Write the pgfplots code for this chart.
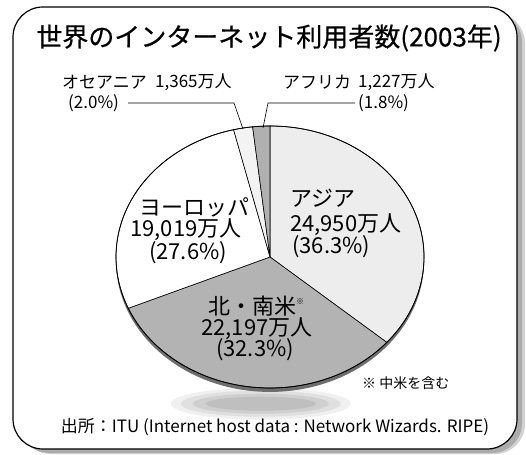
\documentclass[border=0pt]{standalone}
\usepackage{pgfplots}
\pgfplotsset{compat=1.18}
\usepackage{fontspec}
\setmainfont{Noto Sans CJK JP}
\newfontfamily\titlefont[FakeBold=0.5]{Noto Sans CJK JP}
\definecolor{asia}{HTML}{EDEDED}
\definecolor{amer}{HTML}{B3B3B3}
\definecolor{euro}{HTML}{FFFFFF}
\definecolor{ocea}{HTML}{F3F3F3}
\definecolor{afri}{HTML}{B0B0B0}
\definecolor{rim}{HTML}{6E6E6E}
\begin{document}
\begin{tikzpicture}[x=1pt,y=1pt]
\useasboundingbox (0,0) rectangle (526,454);
% frame with shadow
\fill[gray!35, rounded corners=30pt] (21,0) rectangle (525,441);
\fill[gray!65, rounded corners=30pt] (19,1) rectangle (522,442);
\filldraw[fill=white, draw=black, line width=1.2pt, rounded corners=30pt] (13,5) rectangle (517,447);
% percentages (share of users)
\pgfmathsetmacro\aA{90-3.6*36.3}
\pgfmathsetmacro\aB{\aA-3.6*32.3}
\pgfmathsetmacro\aC{\aB-3.6*27.6}
\pgfmathsetmacro\aD{\aC-3.6*2.0}
\pgfmathsetmacro\aE{\aD-3.6*1.8}
\begin{axis}[at={(116pt,66pt)}, anchor=south west, width=308pt, height=262pt, scale only axis,
  xmin=-1, xmax=1, ymin=-1, ymax=1, hide axis, clip=false]
  % shadow
  \fill[gray!12] (axis cs:-0.06,-1.12) ellipse [x radius=90pt, y radius=16pt];
  \fill[gray!24] (axis cs:-0.06,-1.12) ellipse [x radius=80pt, y radius=13pt];
  \fill[gray!38] (axis cs:-0.06,-1.12) ellipse [x radius=68pt, y radius=10pt];
  \fill[gray!50] (axis cs:-0.06,-1.12) ellipse [x radius=55pt, y radius=7pt];
  % rim
  \fill[rim] (axis cs:0,-0.03) ellipse [x radius=154pt, y radius=131pt];
  % slices
  \filldraw[fill=asia, draw=black, line width=0.6pt] (axis cs:0,0) -- (axis cs:0,1)
    arc[start angle=90, end angle=\aA, x radius=154pt, y radius=131pt] -- cycle;
  \filldraw[fill=amer, draw=black, line width=0.6pt] (axis cs:0,0) -- (axis cs:{cos(\aA)},{sin(\aA)})
    arc[start angle=\aA, end angle=\aB, x radius=154pt, y radius=131pt] -- cycle;
  \filldraw[fill=euro, draw=black, line width=0.6pt] (axis cs:0,0) -- (axis cs:{cos(\aB)},{sin(\aB)})
    arc[start angle=\aB, end angle=\aC, x radius=154pt, y radius=131pt] -- cycle;
  \filldraw[fill=ocea, draw=black, line width=0.6pt] (axis cs:0,0) -- (axis cs:{cos(\aC)},{sin(\aC)})
    arc[start angle=\aC, end angle=\aD, x radius=154pt, y radius=131pt] -- cycle;
  \filldraw[fill=afri, draw=black, line width=0.6pt] (axis cs:0,0) -- (axis cs:{cos(\aD)},{sin(\aD)})
    arc[start angle=\aD, end angle=\aE, x radius=154pt, y radius=131pt] -- cycle;
  \draw[line width=0.8pt] (axis cs:0,0) ellipse [x radius=154pt, y radius=131pt];
\end{axis}
% leader lines
\draw[line width=0.6pt] (128,351) -- (234,351) -- (243,325);
\draw[line width=0.6pt] (355,351) -- (268,351) -- (263,326);
% title
\node[inner sep=0, font=\titlefont\fontsize{26}{30}\selectfont] at (269,416) {世界のインターネット利用者数(2003年)};
% small slices labels
\begin{scope}[every node/.style={inner sep=0, font=\fontsize{17}{20}\selectfont}]
\node[anchor=west] at (62,372) {オセアニア};
\node[anchor=west] at (155,372) {1,365万人};
\node[anchor=west] at (68,351) {(2.0\%)};
\node[anchor=west] at (283,372) {アフリカ};
\node[anchor=west] at (358,372) {1,227万人};
\node[anchor=west] at (358,351) {(1.8\%)};
\end{scope}
\begin{scope}[every node/.style={inner sep=0, font=\fontsize{22}{25}\selectfont}]
\node[anchor=west] at (290,256) {アジア};
\node[anchor=west] at (290,229) {24,950万人};
\node[anchor=west] at (292,207) {(36.3\%)};
\node at (194,247) {ヨーロッパ};
\node at (186,224) {19,019万人};
\node at (188,201) {(27.6\%)};
\node at (256,148) {北・南米\raisebox{0.45em}{\fontsize{8}{8}\selectfont ※}};
\node at (257,125) {22,197万人};
\node at (255,104) {(32.3\%)};
\end{scope}
\node[inner sep=0, anchor=west, font=\fontsize{14}{16}\selectfont] at (362,71) {※ 中米を含む};
\node[inner sep=0, font=\fontsize{17}{20}\selectfont] at (275,27) {出所：ITU (Internet host data : Network Wizards. RIPE)};
\end{tikzpicture}
\end{document}
